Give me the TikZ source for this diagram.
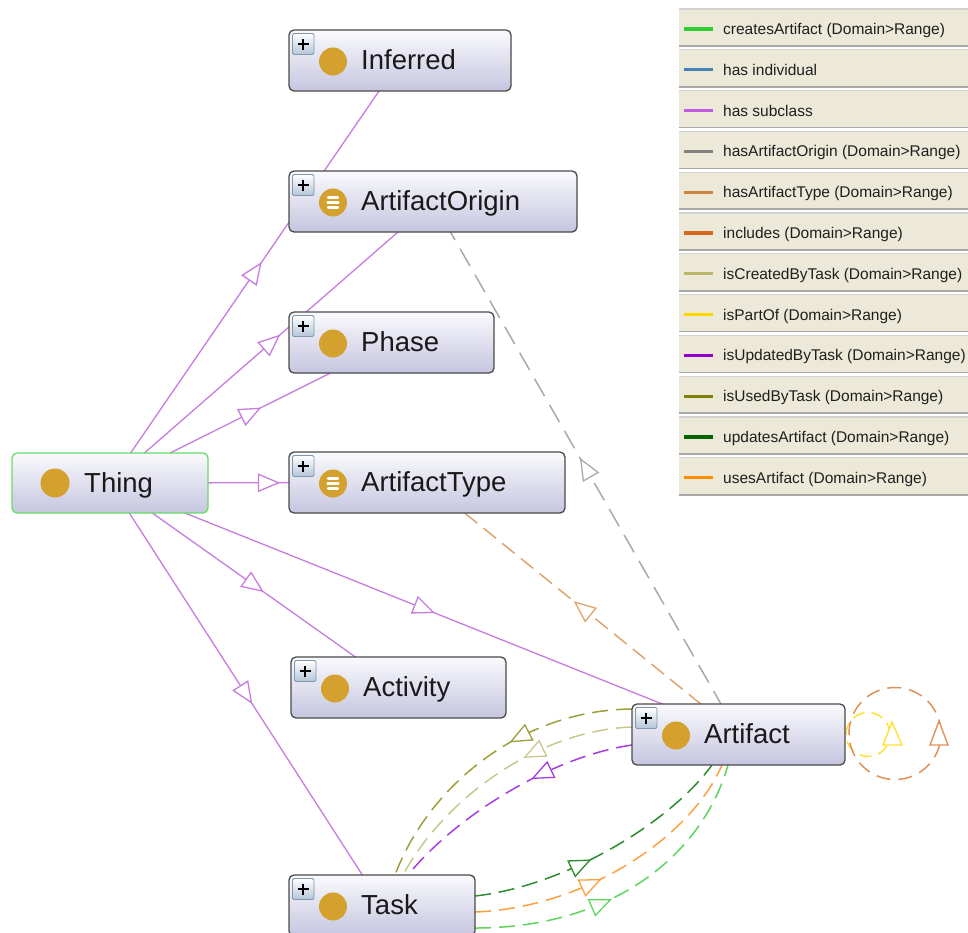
\documentclass[tikz,border=0pt]{standalone}
\usepackage{fontspec}
\setmainfont{Liberation Sans}
\usetikzlibrary{decorations.markings,calc}

\pgfdeclarelayer{paper}
\pgfdeclarelayer{edges}
\pgfsetlayers{paper,edges,main}

\definecolor{boxtop}{HTML}{FAFAFD}
\definecolor{boxbot}{HTML}{C5C5E0}
\definecolor{boxborder}{HTML}{4A4A4A}
\definecolor{thingborder}{HTML}{66DD66}
\definecolor{gold}{HTML}{D4A02E}
\definecolor{plusb}{HTML}{7F97AF}
\definecolor{plusbot}{HTML}{B4C6D8}
\definecolor{subc}{HTML}{C77DDF}
\definecolor{cgray}{HTML}{A9A9A9}
\definecolor{ctype}{HTML}{DDA56E}
\definecolor{colive}{HTML}{9E9E3A}
\definecolor{ckhaki}{HTML}{C8C88C}
\definecolor{cpurple}{HTML}{A63CE6}
\definecolor{cdgreen}{HTML}{2E8B2E}
\definecolor{corange}{HTML}{FFA040}
\definecolor{cgreen}{HTML}{5CD65C}
\definecolor{cyellow}{HTML}{FFE033}
\definecolor{cloop}{HTML}{E0915A}
\definecolor{legbg}{HTML}{ECE9D8}
\definecolor{leglight}{HTML}{D2D2D2}
\definecolor{legdark}{HTML}{A8A8A8}
\definecolor{lcreate}{HTML}{32CD32}
\definecolor{lindiv}{HTML}{4682B4}
\definecolor{lsub}{HTML}{C05CE0}
\definecolor{lorigin}{HTML}{808080}
\definecolor{ltype}{HTML}{CD853F}
\definecolor{linclude}{HTML}{D2691E}
\definecolor{lcreated}{HTML}{BDB76B}
\definecolor{lpart}{HTML}{FFD700}
\definecolor{lupdated}{HTML}{9400D3}
\definecolor{lused}{HTML}{808000}
\definecolor{lupdates}{HTML}{006400}
\definecolor{luses}{HTML}{FF8C00}

\tikzset{
  classbox/.style={draw=boxborder, line width=1.3pt, rounded corners=5pt,
    top color=boxtop, bottom color=boxbot, inner sep=0pt, outer sep=0pt},
  clstext/.style={anchor=base west, inner sep=0pt, font=\fontsize{27.5}{30}\selectfont, text=black!90},
  legtext/.style={anchor=base west, inner sep=0pt, font=\fontsize{15.5}{18}\selectfont, text=black!88},
  tri/.style 2 args={postaction={decorate, decoration={markings,
    mark=at position #1 with {\draw[solid, fill=white, draw=#2, line width=1.3pt, line join=miter]
      (10,0) -- (-10,8.5) -- (-10,-8.5) -- cycle;}}}},
  subline/.style={draw=subc, line width=1.3pt, tri={0.5}{subc}},
  dline/.style={dash pattern=on 16pt off 8pt, line width=1.5pt},
}

\newcommand\mkclass[6]{%
  \node[classbox, minimum width={#4-#2}, minimum height={#5-#3}] (#1) at ({(#2+#4)/2},{(#3+#5)/2}) {};
  \node[clstext] (#1-t) at ($(#1.west)+(72,8.5)$) {#6};
  \fill[gold] ($(#1.west)+(44,1)$) circle[radius=14pt];
}
\newcommand\plusicon[1]{%
  \draw[draw=plusb, line width=0.9pt, top color=white, bottom color=plusbot, rounded corners=1.5pt]
    ($(#1.north west)+(3.5,3.5)$) rectangle ($(#1.north west)+(25,24.5)$);
  \draw[line width=2.4pt] ($(#1.north west)+(14.25,8.5)$) -- ($(#1.north west)+(14.25,19.5)$)
    ($(#1.north west)+(8.75,14)$) -- ($(#1.north west)+(19.75,14)$);
}
\newcommand\equivicon[1]{%
  \draw[white, line width=2.2pt, line cap=round]
    ($(#1.west)+(39,-4)$) -- ($(#1.west)+(49,-4)$)
    ($(#1.west)+(38.5,1)$) -- ($(#1.west)+(49.5,1)$)
    ($(#1.west)+(39,6)$) -- ($(#1.west)+(49,6)$);
}

\begin{document}
\begin{tikzpicture}[x=1pt,y=-1pt]
\begin{pgfonlayer}{paper}
\fill[white] (0,0) rectangle (968,932);
\end{pgfonlayer}
\useasboundingbox (0,0) rectangle (968,932);

% ---------- legend ----------
\foreach \c/\t [count=\i from 0] in {
  lcreate/createsArtifact (Domain>Range),
  lindiv/has individual,
  lsub/has subclass,
  lorigin/hasArtifactOrigin (Domain>Range),
  ltype/hasArtifactType (Domain>Range),
  linclude/includes (Domain>Range),
  lcreated/isCreatedByTask (Domain>Range),
  lpart/isPartOf (Domain>Range),
  lupdated/isUpdatedByTask (Domain>Range),
  lused/isUsedByTask (Domain>Range),
  lupdates/updatesArtifact (Domain>Range),
  luses/usesArtifact (Domain>Range)} {
  \pgfmathsetmacro\top{9+40.8*\i}
  \fill[legbg] (679,\top) rectangle (970,\top+37);
  \draw[leglight, line width=1.2pt] (679,\top) -- (970,\top);
  \draw[legdark, line width=1.5pt] (679,\top+37) -- (970,\top+37);
  \draw[\c, line width=3.2pt] (684,\top+20) -- (713,\top+20);
  \node[legtext] (leg\i) at (723,\top+25.5) {\t};
}

% ---------- class nodes ----------
\mkclass{inferred}{289}{30}{511}{91}{Inferred}
\mkclass{aorigin}{289}{171}{577}{232}{ArtifactOrigin}
\mkclass{phase}{289}{312}{494}{373}{Phase}
\mkclass{atype}{289}{452}{565}{513}{ArtifactType}
\mkclass{activity}{291}{657}{506}{718}{Activity}
\mkclass{artifact}{632}{704}{845}{765}{Artifact}
\mkclass{task}{289}{875}{475}{936}{Task}
\node[classbox, draw=thingborder, minimum width=196, minimum height=60] (thing) at (110,483) {};
\node[clstext] (thing-t) at ($(thing.west)+(72,9)$) {Thing};
\fill[gold] ($(thing.west)+(43,0)$) circle[radius=14.5pt];

\foreach \n in {inferred,aorigin,phase,atype,activity,artifact,task} {\plusicon{\n}}
\equivicon{aorigin}
\equivicon{atype}

% ---------- connectors ----------
\begin{pgfonlayer}{edges}
  \draw[subline] (thing.center) -- (inferred.center);
  \draw[subline] (thing.center) -- (aorigin.center);
  \draw[subline] (thing.center) -- (phase.center);
  \draw[subline] (thing.center) -- (atype.center);
  \draw[subline] (thing.center) -- (artifact.center);
  \draw[subline] (thing.center) -- (activity.center);
  \draw[subline] (thing.center) -- (task.center);

  \draw[dline, dash pattern=on 20pt off 10pt, draw=cgray, tri={0.5}{cgray}] (artifact.center) -- (aorigin.center);
  \draw[dline, draw=ctype, tri={0.5}{ctype}] (artifact.center) -- (atype.center);

  % Artifact -> Task
  \draw[dline, draw=colive, tri={0.38}{colive}]
    ($(artifact.north west)+(0,5)$) .. controls +(-112,1) and +(33,-88) .. ($(task.north west)+(106,0)$);
  \draw[dline, draw=ckhaki, tri={0.36}{ckhaki}]
    ($(artifact.north west)+(0,23)$) .. controls +(-92,3) and +(42,-78) .. ($(task.north west)+(114,0)$);
  \draw[dline, draw=cpurple, tri={0.36}{cpurple}]
    ($(artifact.north west)+(0,41)$) .. controls +(-82,12) and +(47,-58) .. ($(task.north west)+(119,0)$);
  % Task -> Artifact
  \draw[dline, draw=cdgreen, tri={0.4}{cdgreen}]
    ($(task.north east)+(0,21)$) .. controls +(90,-10) and +(-42,58) .. ($(artifact.south west)+(80,0)$);
  \draw[dline, draw=corange, tri={0.4}{corange}]
    ($(task.north east)+(0,37)$) .. controls +(108,-4) and +(-32,74) .. ($(artifact.south west)+(90,0)$);
  \draw[dline, draw=cgreen, tri={0.4}{cgreen}]
    ($(task.north east)+(0,53)$) .. controls +(140,0) and +(-25,88) .. ($(artifact.south west)+(96,0)$);

  % self loops on Artifact
  \draw[draw=cyellow, line width=1.5pt, dash pattern=on 12pt off 7pt]
    ($(artifact.east)+(23,0)$) circle[radius=22pt];
  \draw[draw=cloop, line width=1.5pt, dash pattern=on 14pt off 8pt]
    ($(artifact.east)+(50,-1)$) circle[radius=46pt];
  \draw[draw=cyellow, line width=1.4pt, fill=white, line join=miter]
    ($(artifact.east)+(47,-12.5)$) -- ($(artifact.east)+(38,10.5)$) -- ($(artifact.east)+(57,10.5)$) -- cycle;
  \draw[draw=cloop, line width=1.4pt, fill=white, line join=miter]
    ($(artifact.east)+(94,-13.5)$) -- ($(artifact.east)+(85,10.5)$) -- ($(artifact.east)+(103,10.5)$) -- cycle;
\end{pgfonlayer}
\end{tikzpicture}
\end{document}
